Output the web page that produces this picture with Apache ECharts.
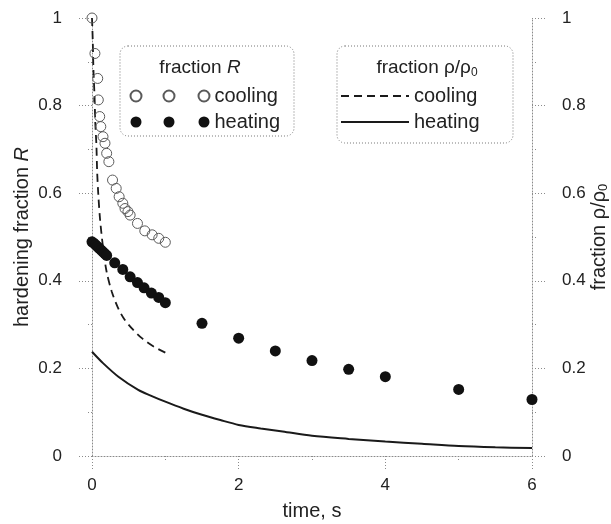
<!DOCTYPE html>
<html><head><meta charset="utf-8">
<script src="https://cdn.jsdelivr.net/npm/echarts@6/dist/echarts.min.js"></script>
<style>html,body{margin:0;padding:0;background:#fff}#c{width:611px;height:524px}</style>
</head><body><div id="c"></div>
<script>
// data
const coolingR_t = [0,0.04,0.078,0.086,0.105,0.12,0.15,0.177,0.2,0.23,0.28,0.33,0.37,0.42,0.45,0.49,0.52,0.62,0.72,0.82,0.91,1.0];
const coolingR_v = [1.0,0.919,0.862,0.813,0.775,0.752,0.729,0.714,0.691,0.672,0.630,0.611,0.592,0.577,0.565,0.558,0.550,0.531,0.514,0.505,0.497,0.488];
const heatingR_t = [0,0.025,0.05,0.075,0.1,0.125,0.15,0.175,0.2,0.31,0.42,0.52,0.62,0.71,0.81,0.91,1.0,1.5,2,2.5,3,3.5,4,5,6];
const heatingR_v = [0.489,0.486,0.482,0.478,0.474,0.470,0.466,0.462,0.458,0.441,0.426,0.409,0.396,0.384,0.372,0.362,0.350,0.303,0.269,0.240,0.218,0.198,0.181,0.152,0.129];
const coolingRho_t = [0,0.01,0.02,0.035,0.045,0.06,0.07,0.085,0.11,0.155,0.2,0.27,0.35,0.43,0.54,0.68,0.84,1.0];
const coolingRho_v = [1.0,0.95,0.88,0.82,0.76,0.71,0.65,0.60,0.54,0.47,0.42,0.375,0.34,0.315,0.292,0.269,0.25,0.236];
const heatingRho_t = [0,0.15,0.36,0.63,0.8,1.0,1.25,1.5,1.75,2.0,2.3,2.6,3.0,3.5,4.0,4.5,5.0,5.5,6.0];
const heatingRho_v = [0.238,0.212,0.181,0.151,0.138,0.124,0.108,0.094,0.082,0.071,0.063,0.056,0.046,0.039,0.033,0.028,0.023,0.020,0.018];
const xTicks = [0,2,4,6];
const yTicks = [0,0.2,0.4,0.6,0.8,1];

const zip = (a,b) => a.map((x,i)=>[x,b[i]]);
const FONT = 'Liberation Sans, Arial, sans-serif';
const TXT = '#222';
const axisGray = '#8a8a8a';
const dotted = {color: axisGray, type: [1,2], width: 1};

const chart = echarts.init(document.getElementById('c'));
const yAxisBase = {
  type: 'value', min: yTicks[0], max: yTicks[yTicks.length-1], interval: 0.2,
  axisLine: {show: true, onZero: false, lineStyle: dotted},
  axisTick: {show: true, length: 14, lineStyle: dotted},
  minorTick: {show: true, splitNumber: 2, length: 5, lineStyle: dotted},
  splitLine: {show: false},
  axisLabel: {fontSize: 17, color: TXT, fontFamily: FONT, margin: 30},
  nameLocation: 'middle', nameRotate: 90, nameMoveOverlap: false,
  nameTextStyle: {fontSize: 20, color: TXT, fontFamily: FONT,
    rich: {i: {fontSize: 20, fontStyle: 'italic', color: TXT, fontFamily: FONT},
           s: {fontSize: 13, color: TXT, fontFamily: FONT, padding: [9,0,0,0]}}}
};
const tri = 'path://M0,5.5a5.5,5.5 0 1,0 11,0a5.5,5.5 0 1,0 -11,0Z M33,5.5a5.5,5.5 0 1,0 11,0a5.5,5.5 0 1,0 -11,0Z M68,5.5a5.5,5.5 0 1,0 11,0a5.5,5.5 0 1,0 -11,0Z';
const hidden = {color: 'rgba(0,0,0,0)', borderWidth: 0, opacity: 0};
chart.setOption({
  animation: false,
  grid: {left: 92, right: 79, top: 18, bottom: 68, outerBoundsMode: 'none', containLabel: false},
  xAxis: {
    type: 'value', min: xTicks[0], max: xTicks[xTicks.length-1], interval: 2,
    axisLine: {show: true, onZero: false, lineStyle: dotted},
    axisTick: {show: true, length: 14, lineStyle: dotted},
    minorTick: {show: true, splitNumber: 2, length: 6, lineStyle: dotted},
    splitLine: {show: false},
    axisLabel: {fontSize: 17, color: TXT, fontFamily: FONT, margin: 21},
    name: 'time, s', nameLocation: 'middle', nameGap: 45,
    nameTextStyle: {fontSize: 20, color: TXT, fontFamily: FONT}
  },
  yAxis: [
    Object.assign({}, yAxisBase, {position: 'left', name: 'hardening fraction {i|R}', nameGap: 60}),
    Object.assign({}, yAxisBase, {position: 'right', name: 'fraction ρ/ρ{s|0}', nameGap: 56})
  ],
  legend: [
    {
      data: [{name: 'cooling R', icon: tri}, {name: 'heating R', icon: tri}],
      orient: 'vertical', left: 129.5, top: 86,
      padding: 0, itemGap: 6, itemWidth: 79, itemHeight: 11,
      formatter: n => n.split(' ')[0],
      textStyle: {fontSize: 20, color: TXT, fontFamily: FONT},
      selectedMode: false
    },
    {
      data: [{name: 'cooling ρ', itemStyle: hidden}, {name: 'heating ρ', itemStyle: hidden}],
      orient: 'vertical', left: 340, top: 86,
      padding: 0, itemGap: 6, itemWidth: 68, itemHeight: 14,
      itemStyle: hidden,
      formatter: n => n.split(' ')[0],
      textStyle: {fontSize: 20, color: TXT, fontFamily: FONT},
      selectedMode: false
    }
  ],
  graphic: [
    {type: 'rect', shape: {x: 120, y: 46, width: 174, height: 90, r: 8},
     style: {fill: 'none', stroke: '#777', lineWidth: 1, lineDash: [1,2]}},
    {type: 'rect', shape: {x: 337, y: 46, width: 176, height: 97, r: 8},
     style: {fill: 'none', stroke: '#777', lineWidth: 1, lineDash: [1,2]}},
    {type: 'text', x: 200, y: 68,
     style: {text: 'fraction {i|R}', fill: TXT, font: '19px ' + FONT, align: 'center', verticalAlign: 'middle',
       rich: {i: {fontStyle: 'italic', fontSize: 19, fontFamily: FONT, fill: TXT}}}},
    {type: 'text', x: 427, y: 68,
     style: {text: 'fraction ρ/ρ{s|0}', fill: TXT, font: '19px ' + FONT, align: 'center', verticalAlign: 'middle',
       rich: {s: {fontSize: 12, fontFamily: FONT, fill: TXT, padding: [9,0,0,0]}}}}
  ],
  series: [
    {name: 'cooling ρ', type: 'line', yAxisIndex: 1, data: zip(coolingRho_t, coolingRho_v),
     smooth: 0.3, symbol: 'none', lineStyle: {color: '#1a1a1a', width: 1.8, type: [8,5]}, itemStyle: {color: '#1a1a1a'}, z: 3},
    {name: 'heating ρ', type: 'line', yAxisIndex: 1, data: zip(heatingRho_t, heatingRho_v),
     smooth: 0.3, symbol: 'none', lineStyle: {color: '#1a1a1a', width: 2}, itemStyle: {color: '#1a1a1a'}, z: 3},
    {name: 'cooling R', type: 'scatter', data: zip(coolingR_t, coolingR_v), symbolSize: 10,
     itemStyle: {color: 'rgba(255,255,255,0)', borderColor: '#5a5a5a', borderWidth: 1, opacity: 1}, z: 4},
    {name: 'heating R', type: 'scatter', data: zip(heatingR_t, heatingR_v), symbolSize: 11,
     itemStyle: {color: '#111', opacity: 1}, z: 4}
  ]
});
</script></body></html>
